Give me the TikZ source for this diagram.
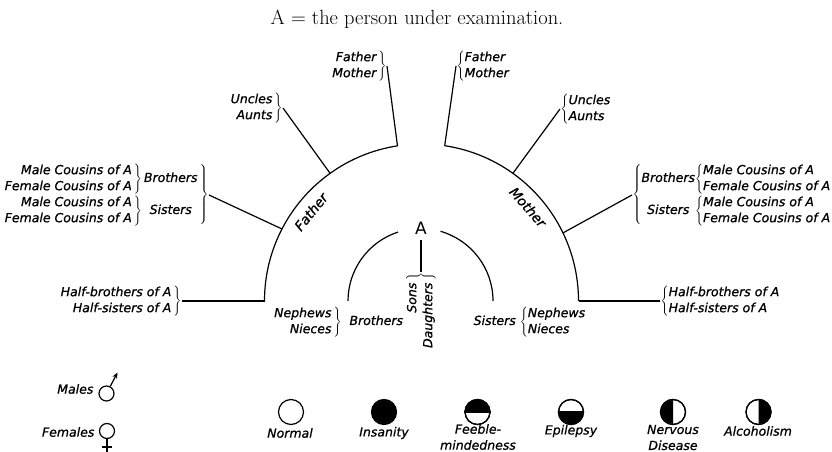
\documentclass[tikz,border=0pt]{standalone}
\usepackage{fontspec}
\setsansfont{DejaVu Sans}
\newfontfamily\labfont{DejaVu Sans}[ItalicFeatures={FakeBold=0.8}]
\usetikzlibrary{arrows.meta,calc}
\newcommand{\rgrp}[1]{$\left.\begin{tabular}{@{}r@{}}#1\end{tabular}\,\right\}$}
\newcommand{\lgrp}[1]{$\left\{\begin{tabular}{@{}l@{}}#1\end{tabular}\right.$}
\begin{document}
\begin{tikzpicture}[x=1pt,y=1pt,line width=1.2pt,
  lab/.style={font=\labfont\itshape\fontsize{12.5}{16}\selectfont,inner sep=0pt},
  biglab/.style={font=\labfont\itshape\fontsize{13.5}{16}\selectfont,inner sep=0pt},
  sym/.style={circle,draw,minimum size=25pt,inner sep=0pt,line width=1.2pt},
  gsym/.style={circle,draw,inner sep=0pt,line width=1.2pt}]
\useasboundingbox (0,0) rectangle (832,452);
\coordinate (C) at (421.5,151);
\coordinate (Ci) at (420.5,151);
% title
\node[font=\fontsize{20.5}{24}\selectfont] (title) at (417,433) {A = the person under examination.};
% outer arcs
\coordinate (pFL) at ($(C)+(98.8:157)$);
\coordinate (pUL) at ($(C)+(125.6:157)$);
\coordinate (pBL) at ($(C)+(152.7:157)$);
\coordinate (pHL) at ($(C)+(180:157)$);
\coordinate (pFR) at ($(C)+(81.5:157)$);
\coordinate (pUR) at ($(C)+(54.4:157)$);
\coordinate (pBR) at ($(C)+(25.7:157)$);
\coordinate (pHR) at ($(C)+(0:157)$);
\draw (pHL) arc[start angle=180,end angle=98.8,radius=157];
\draw (pHR) arc[start angle=0,end angle=81.5,radius=157];
% inner arcs
\coordinate (iL) at ($(Ci)+(180:72.5)$);
\coordinate (iR) at ($(Ci)+(0:72.5)$);
\draw (iL) arc[start angle=180,end angle=108,radius=72.5];
\draw (iR) arc[start angle=0,end angle=74,radius=72.5];
% arc labels
\node[biglab,rotate=51] (fa) at ($(C)+(141.1:142)$) {Father};
\node[biglab,rotate=-48.6] (mo) at ($(C)+(41.4:142)$) {Mother};
% A
\node[font=\sffamily\fontsize{17}{20}\selectfont,inner sep=5pt] (A) at (421,224) {A};
\node[lab,rotate=90,anchor=east] (sd) at (421,180) {\rgrp{Sons\\Daughters}};
\draw (A.south) -- (sd.east);
% left groups
\node[lab,anchor=east] (fmL) at (387,386) {\rgrp{Father\\Mother}};
\node[lab,anchor=east] (uaL) at (283,344) {\rgrp{Uncles\\Aunts}};
\node[lab,anchor=east] (bsL) at (209,257) {$\left.\begin{tabular}{@{}r@{\,}c@{}}\rgrp{Male Cousins of A\\Female Cousins of A} & Brothers\\ \rgrp{Male Cousins of A\\Female Cousins of A} & Sisters\end{tabular}\,\right\}$};
\node[lab,anchor=east] (hL) at (182,151) {\rgrp{Half-brothers of A\\Half-sisters of A}};
\draw (pFL) -- (fmL.east);
\draw (pUL) -- (uaL.east);
\draw (pBL) -- (bsL.east);
\draw (pHL) -- (hL.east);
% right groups
\node[lab,anchor=west] (fmR) at (456,386) {\lgrp{Father\\Mother}};
\node[lab,anchor=west] (uaR) at (560,343) {\lgrp{Uncles\\Aunts}};
\node[lab,anchor=west] (bsR) at (632,257) {$\left\{\begin{tabular}{@{}c@{}l@{}}Brothers & \lgrp{Male Cousins of A\\Female Cousins of A}\\ Sisters & \lgrp{Male Cousins of A\\Female Cousins of A}\end{tabular}\right.$};
\node[lab,anchor=west] (hR) at (660,151) {\lgrp{Half-brothers of A\\Half-sisters of A}};
\draw (pFR) -- (fmR.west);
\draw (pUR) -- (uaR.west);
\draw (pBR) -- (bsR.west);
\draw (pHR) -- (hR.west);
% bottom labels
\node[lab] (nnL) at (338,130) {\rgrp{Nephews\\Nieces}\ \ Brothers};
\node[lab] (nnR) at (530,130) {Sisters \lgrp{Nephews\\Nieces}};
% legend: sexes
\node[lab,anchor=east] (males) at (94,63) {Males};
\node[gsym,minimum size=15pt] (mc) at (106.5,58.5) {};
\coordinate (mtip) at (117.5,79.5);
\draw[-{Stealth[length=6pt,width=5pt]}] (mc.62) -- (mtip);
\node[lab,anchor=east] (females) at (95,20) {Females};
\node[gsym,minimum size=15pt] (fc) at (107,21) {};
\coordinate (fbot) at (107,0);
\coordinate (fxl) at (102,5);
\coordinate (fxr) at (112,5);
\draw (fc.south) -- (fbot);
\draw (fxl) -- (fxr);
% legend: conditions
\node[sym] (s1) at (291,40) {};
\node[sym,fill=black] (s2) at (384,40) {};
\node[sym] (s3) at (477.5,40) {};
\fill (s3.west) arc[start angle=180,end angle=0,radius=12.5] -- cycle;
\draw (s3.west) -- (s3.east);
\node[sym] (s4) at (571,40) {};
\fill (s4.west) arc[start angle=180,end angle=360,radius=12.5] -- cycle;
\draw (s4.west) -- (s4.east);
\node[sym] (s5) at (673,40) {};
\fill (s5.north) arc[start angle=90,end angle=270,radius=12.5] -- cycle;
\node[sym] (s6) at (758.5,40) {};
\fill (s6.north) arc[start angle=90,end angle=-90,radius=12.5] -- cycle;
\node[sym] at (477.5,40) {};
\node[sym] at (571,40) {};
\node[sym] at (673,40) {};
\node[sym] at (758.5,40) {};
\node[lab] (t1) at (290,19) {Normal};
\node[lab] (t2) at (384,19) {Insanity};
\node[lab,align=center] (t3) at (478,15) {Feeble-\\mindedness};
\node[lab] (t4) at (571,21) {Epilepsy};
\node[lab,align=center] (t5) at (673,14.5) {Nervous\\Disease};
\node[lab] (t6) at (758,21) {Alcoholism};
\end{tikzpicture}
\end{document}
